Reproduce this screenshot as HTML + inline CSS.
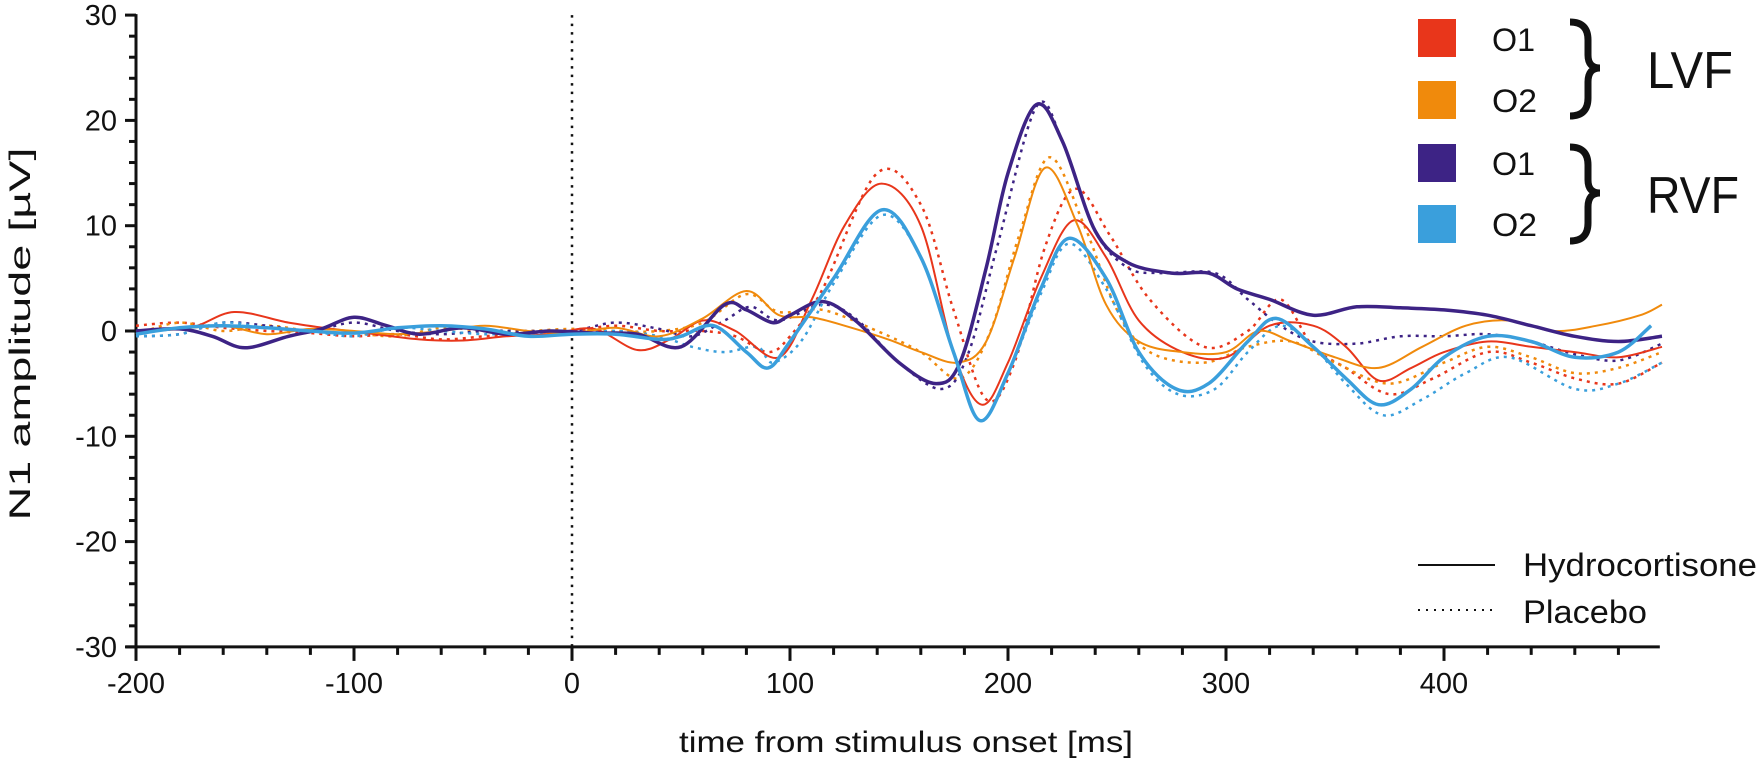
<!DOCTYPE html>
<html><head><meta charset="utf-8"><style>
html,body{margin:0;padding:0;background:#fff;}
svg{display:block;font-family:"Liberation Sans",Arial,sans-serif;}
</style></head><body>
<svg id="chart" width="1759" height="760" viewBox="0 0 1759 760" xmlns="http://www.w3.org/2000/svg">
<g id="axes"></g>
<g id="series"></g>
<g id="legend">
  <rect x="1418" y="19" width="38" height="38" fill="#e8361b"/>
  <rect x="1418" y="81" width="38" height="38" fill="#f08a0c"/>
  <rect x="1418" y="144" width="38" height="38" fill="#3d2385"/>
  <rect x="1418" y="205" width="38" height="38" fill="#3a9fdc"/>
  <text x="1492" y="51" font-size="32" fill="#111" textLength="43" lengthAdjust="spacingAndGlyphs">O1</text>
  <text x="1492" y="112" font-size="32" fill="#111" textLength="45" lengthAdjust="spacingAndGlyphs">O2</text>
  <text x="1492" y="175" font-size="32" fill="#111" textLength="43" lengthAdjust="spacingAndGlyphs">O1</text>
  <text x="1492" y="236" font-size="32" fill="#111" textLength="45" lengthAdjust="spacingAndGlyphs">O2</text>
  <path d="M1570,22 Q1588,22 1588,40 L1588,55 Q1588,68 1600,68 Q1588,68 1588,82 L1588,98 Q1588,116 1570,116" fill="none" stroke="#111" stroke-width="7"/>
  <path d="M1570,147 Q1588,147 1588,165 L1588,180 Q1588,193 1600,193 Q1588,193 1588,207 L1588,223 Q1588,241 1570,241" fill="none" stroke="#111" stroke-width="7"/>
  <text x="1647" y="88" font-size="52" fill="#111" textLength="86" lengthAdjust="spacingAndGlyphs">LVF</text>
  <text x="1647" y="213" font-size="52" fill="#111" textLength="92" lengthAdjust="spacingAndGlyphs">RVF</text>
  <line x1="1418" y1="565" x2="1495" y2="565" stroke="#111" stroke-width="2"/>
  <line x1="1418" y1="610" x2="1495" y2="610" stroke="#111" stroke-width="2" stroke-dasharray="2,6"/>
  <text x="1523" y="576" font-size="32" fill="#111" textLength="234" lengthAdjust="spacingAndGlyphs">Hydrocortisone</text>
  <text x="1523" y="623" font-size="32" fill="#111" textLength="124" lengthAdjust="spacingAndGlyphs">Placebo</text>
</g>
<text x="906" y="752" font-size="30" text-anchor="middle" fill="#111" textLength="454" lengthAdjust="spacingAndGlyphs">time from stimulus onset [ms]</text>
<text transform="translate(30,334) rotate(-90)" x="0" y="0" font-size="30" text-anchor="middle" fill="#111" textLength="373" lengthAdjust="spacingAndGlyphs">N1 amplitude [µV]</text>
</svg>
<script>
// ---- data ----
const xTickValues = [-200,-100,0,100,200,300,400];
const yTickValues = [-30,-20,-10,0,10,20,30];

const tLvfO1Hydro = [-200,-175,-155,-130,-110,-90,-70,-50,-30,-10,10,30,45,60,75,95,110,125,142,160,175,188,200,215,230,245,260,280,300,320,340,355,370,385,400,420,440,460,480,500];
const vLvfO1Hydro = [0,0.3,1.8,0.8,0.2,-0.3,-0.8,-0.9,-0.5,-0.3,0.2,-1.8,-0.8,1,0,-2.5,3,10,14,10,-2,-7,-3,5,10.5,7,1,-2,-2.5,0.5,0.5,-1.5,-4.7,-3.5,-2,-1,-1.5,-2,-2.5,-1.5];

const tLvfO1Plac = [-200,-180,-160,-140,-120,-100,-80,-60,-40,-20,0,20,40,60,75,90,100,115,140,160,175,190,203,217,231,247,265,290,310,325,340,355,375,395,420,440,460,480,500];
const vLvfO1Plac = [0.5,0.8,0.3,0,-0.2,-0.5,-0.3,-0.8,-0.5,-0.2,0,0.5,0,0,-0.5,-2,-0.5,4,15,12,2,-6.5,-3,8,13.5,9,3,-1.5,0,3,-1.5,-3.5,-6,-4.5,-2,-3,-4.5,-5,-3];

const tLvfO2Hydro = [-200,-180,-160,-140,-120,-100,-80,-60,-40,-20,0,20,40,60,80,95,110,125,145,160,177,190,203,217,232,245,260,280,300,315,330,350,370,390,410,430,450,470,490,500];
const vLvfO2Hydro = [0,0.2,0.5,-0.3,0.2,0,-0.3,0,0.5,0,-0.2,0.3,-0.5,1.2,3.8,1.5,1.3,0.5,-0.8,-2,-3,-1,7,15.5,10,2.5,-1,-2,-2,0,-1,-2.5,-3.5,-1.5,0.5,1,0,0.5,1.5,2.5];

const tLvfO2Plac = [-200,-180,-160,-140,-120,-100,-80,-60,-40,-20,0,20,40,60,80,95,115,140,160,178,192,205,219,235,250,265,290,310,330,350,375,400,420,440,460,480,500];
const vLvfO2Plac = [-0.3,0.8,0,0.5,0,-0.2,-0.5,0.3,0,0,0.2,0,0,0.8,3.5,1.8,2,0,-2,-4.5,0,9,16.5,10,2,-2,-3,-1.5,-1,-3,-5,-3,-1.5,-2.5,-4,-3.5,-2];

const tRvfO1Hydro = [-200,-180,-165,-150,-130,-115,-100,-85,-70,-50,-30,-10,10,30,50,70,80,92,100,115,130,150,167,178,190,200,213,225,240,255,275,292,305,320,340,360,380,400,420,440,460,480,500];
const vRvfO1Hydro = [0,0.2,-0.5,-1.6,-0.5,0.2,1.3,0.5,-0.3,0.3,-0.3,0,-0.2,-0.3,-1.5,2.5,2,0.8,1.5,2.8,1,-3,-5,-3,6,15,21.5,18,9.5,6.5,5.5,5.5,4,3,1.5,2.3,2.2,2,1.5,0.5,-0.5,-1,-0.5];

const tRvfO1Plac = [-200,-180,-160,-140,-120,-100,-80,-60,-40,-20,0,20,40,55,70,82,95,115,130,150,170,182,195,213,225,240,255,270,295,310,325,340,360,380,400,420,440,460,480,500];
const vRvfO1Plac = [-0.5,-0.3,0.8,0.5,0,0.8,0,-0.3,0,0,0,0.8,0.2,-0.5,1,2.3,1,2.5,1.2,-3,-5.5,-2,8,21.3,18,9.5,6,5.5,5.5,3,0.5,-1,-1.2,-0.5,-0.5,-0.3,-1,-2.2,-2.8,-1.2];

const tRvfO2Hydro = [-200,-180,-160,-140,-120,-100,-80,-60,-40,-20,0,20,40,50,65,80,90,100,120,142,160,175,187,200,215,228,245,260,277,292,310,323,340,355,370,385,400,420,440,460,480,495];
const vRvfO2Hydro = [-0.3,0.3,0.5,0.3,0,-0.2,0.3,0.5,0.2,-0.5,-0.3,-0.3,-0.8,-0.5,0.5,-2,-3.5,-1,5,11.5,7,-2,-8.5,-4,4,8.8,5,-2,-5.5,-5,-1,1.2,-1.5,-4.5,-7,-5.5,-2.5,-0.5,-1,-2.5,-2,0.5];

const tRvfO2Plac = [-200,-180,-160,-140,-120,-100,-80,-60,-40,-20,0,20,40,55,70,85,92,105,120,142,160,175,187,200,215,228,245,262,278,295,310,325,340,355,372,390,410,430,460,480,500];
const vRvfO2Plac = [-0.5,-0.3,0.8,0.3,0,-0.5,0.3,0,-0.3,-0.2,-0.3,0,-0.5,-1.5,-2,-1.5,-3,-1,4.5,11,7,-2,-8.5,-4,3.5,8.3,4,-3,-6,-5.5,-2,0.5,-1.5,-5,-8,-6.5,-4,-2.5,-5.5,-5,-3];

// ---- scales ----
const X0 = 572, XPX = 2.18;      // px per ms
const Y0 = 331, YPX = 10.53;     // px per µV
function xs(t){ return X0 + t*XPX; }
function ys(v){ return Y0 - v*YPX; }

const NS = 'http://www.w3.org/2000/svg';
const axes = document.getElementById('axes');
const seriesG = document.getElementById('series');
function mk(tag, parent){ const e=document.createElementNS(NS,tag); parent.appendChild(e); return e; }

const xLeft = xs(-200), xRight = xs(499), yBot = ys(-30), yTop = ys(30);
let yAxis = mk('line', axes);


yAxis.setAttribute('x1', xLeft); yAxis.setAttribute('x2', xLeft);
yAxis.setAttribute('y1', yTop-1); yAxis.setAttribute('y2', yBot);
yAxis.setAttribute('stroke', '#111'); yAxis.setAttribute('stroke-width', '3');
let xAxis = mk('line', axes);


xAxis.setAttribute('x1', xLeft-10); xAxis.setAttribute('x2', xRight);
xAxis.setAttribute('y1', yBot); xAxis.setAttribute('y2', yBot);
xAxis.setAttribute('stroke', '#111'); xAxis.setAttribute('stroke-width', '3');

for (let v=-30; v<=30; v+=2){
  const major = (v % 10 === 0);
  let tk = mk('line', axes);
  
  
  tk.setAttribute('x1', xLeft - (major?11:7)); tk.setAttribute('x2', xLeft);
  tk.setAttribute('y1', ys(v)); tk.setAttribute('y2', ys(v));
  tk.setAttribute('stroke', '#111'); tk.setAttribute('stroke-width', '3');
}
yTickValues.forEach(v=>{
  let lb = mk('text', axes);
  
  
  lb.setAttribute('x', 117); lb.setAttribute('y', ys(v)+10);
  lb.setAttribute('text-anchor', 'end'); lb.setAttribute('font-size', '29'); lb.setAttribute('fill', '#111');
  lb.textContent = String(v);
});
for (let t=-200; t<=480; t+=20){
  const major = (t % 100 === 0);
  let tk = mk('line', axes);
  
  
  tk.setAttribute('x1', xs(t)); tk.setAttribute('x2', xs(t));
  tk.setAttribute('y1', yBot); tk.setAttribute('y2', yBot + (major?14:8));
  tk.setAttribute('stroke', '#111'); tk.setAttribute('stroke-width', '3');
}
xTickValues.forEach(t=>{
  let lb = mk('text', axes);
  
  
  lb.setAttribute('x', xs(t)); lb.setAttribute('y', yBot + 46);
  lb.setAttribute('text-anchor', 'middle'); lb.setAttribute('font-size', '29'); lb.setAttribute('fill', '#111');
  lb.textContent = String(t);
});
let onset = mk('line', axes);


onset.setAttribute('x1', xs(0)); onset.setAttribute('x2', xs(0));
onset.setAttribute('y1', yTop); onset.setAttribute('y2', yBot);
onset.setAttribute('stroke', '#111'); onset.setAttribute('stroke-width', '2.5'); onset.setAttribute('stroke-dasharray', '2.5,6');

function pathD(ts, vs){
  const p = ts.map((t,i)=>[xs(t), ys(vs[i])]);
  let d = 'M'+p[0][0].toFixed(1)+','+p[0][1].toFixed(1);
  for (let i=0;i<p.length-1;i++){
    const p0=p[Math.max(0,i-1)], p1=p[i], p2=p[i+1], p3=p[Math.min(p.length-1,i+2)];
    const c1x=p1[0]+(p2[0]-p0[0])/6, c1y=p1[1]+(p2[1]-p0[1])/6;
    const c2x=p2[0]-(p3[0]-p1[0])/6, c2y=p2[1]-(p3[1]-p1[1])/6;
    d += ' C'+c1x.toFixed(1)+','+c1y.toFixed(1)+' '+c2x.toFixed(1)+','+c2y.toFixed(1)+' '+p2[0].toFixed(1)+','+p2[1].toFixed(1);
  }
  return d;
}
function drawSeries(name, ts, vs, color, width, dotted){
  let path = mk('path', seriesG);
  
  
  path.setAttribute('d', pathD(ts, vs));
  path.setAttribute('fill', 'none');
  path.setAttribute('stroke', color);
  path.setAttribute('stroke-width', width);
  path.setAttribute('stroke-linejoin', 'round');
  if (dotted) path.setAttribute('stroke-dasharray', '3,5');
}
drawSeries('series-lvf-o1-placebo', tLvfO1Plac, vLvfO1Plac, '#e8361b', 2.5, true);
drawSeries('series-lvf-o2-placebo', tLvfO2Plac, vLvfO2Plac, '#f08a0c', 2.5, true);
drawSeries('series-rvf-o1-placebo', tRvfO1Plac, vRvfO1Plac, '#3d2385', 2.5, true);
drawSeries('series-rvf-o2-placebo', tRvfO2Plac, vRvfO2Plac, '#3a9fdc', 2.5, true);
drawSeries('series-lvf-o1-hydrocortisone', tLvfO1Hydro, vLvfO1Hydro, '#e8361b', 2, false);
drawSeries('series-lvf-o2-hydrocortisone', tLvfO2Hydro, vLvfO2Hydro, '#f08a0c', 2, false);
drawSeries('series-rvf-o1-hydrocortisone', tRvfO1Hydro, vRvfO1Hydro, '#3d2385', 3.5, false);
drawSeries('series-rvf-o2-hydrocortisone', tRvfO2Hydro, vRvfO2Hydro, '#3a9fdc', 3.5, false);
</script>
</body></html>
